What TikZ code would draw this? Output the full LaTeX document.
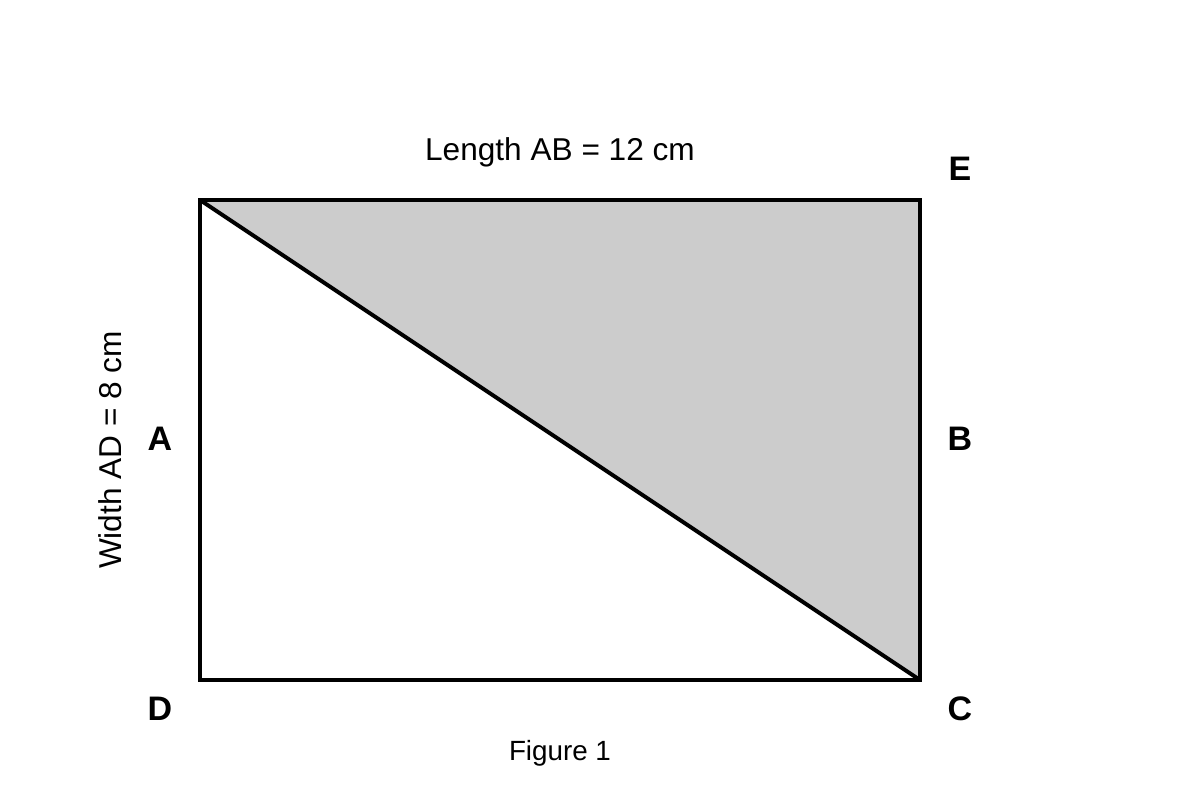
\documentclass[tikz,border=0pt]{standalone}
\usepackage{fontspec}
\setmainfont{Liberation Sans}
\definecolor{fillgray}{HTML}{CCCCCC}
\tikzset{
  edge/.style={line width=4pt, line join=miter},
  ptlabel/.style={font=\fontsize{34}{40}\selectfont\bfseries, anchor=base, inner sep=0pt},
  dimlabel/.style={font=\fontsize{31.6}{38}\selectfont, anchor=base, inner sep=0pt},
  caplabel/.style={font=\fontsize{27.8}{33}\selectfont, anchor=base, inner sep=0pt}
}
\begin{document}
\begin{tikzpicture}[x=1pt,y=-1pt]
\useasboundingbox (0,0) rectangle (1200,800);
\coordinate (TL) at (200,200);
\coordinate (TR) at (920,200);
\coordinate (BR) at (920,680);
\coordinate (BL) at (200,680);
\fill[fillgray] (TL) -- (TR) -- (BR) -- cycle;
\draw[edge] (TL) -- (TR) -- (BR) -- (BL) -- cycle;
\draw[edge] (TL) -- (BR);
\node[dimlabel] (len) at (560,160) {Length AB = 12 cm};
\node[dimlabel, rotate=90] (wid) at (121,450) {Width AD = 8 cm};
\node[ptlabel] (E) at (960,180) {E};
\node[ptlabel] (A) at (160,450) {A};
\node[ptlabel] (B) at (960,450) {B};
\node[ptlabel] (D) at (160,720) {D};
\node[ptlabel] (C) at (960,720) {C};
\node[caplabel] (fig) at (560,760) {Figure 1};
\end{tikzpicture}
\end{document}
